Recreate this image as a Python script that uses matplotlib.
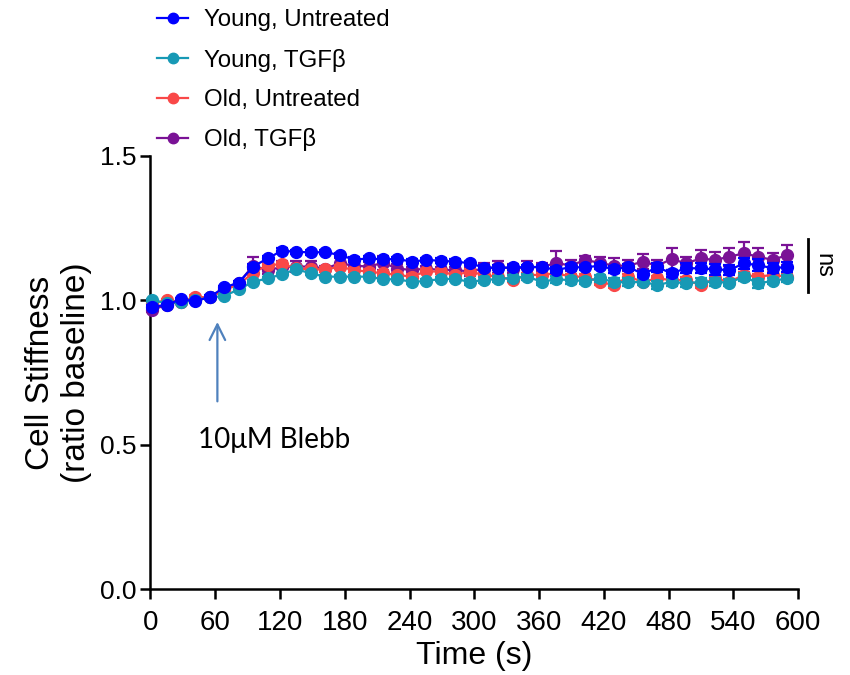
import matplotlib
matplotlib.use("Agg")
import matplotlib.pyplot as plt
from matplotlib.lines import Line2D

plt.rcParams['font.family'] = ['Liberation Sans', 'DejaVu Sans']

# ---- data ----
time_s = [1.5, 14.9, 28.2, 41.6, 55.0, 68.4, 81.7, 95.1, 108.5, 121.8,
          135.2, 148.6, 161.9, 175.3, 188.7, 202.1, 215.4, 228.8, 242.2, 255.5,
          268.9, 282.3, 295.6, 309.0, 322.4, 335.8, 349.1, 362.5, 375.9, 389.2,
          402.6, 416.0, 429.3, 442.7, 456.1, 469.5, 482.8, 496.2, 509.6, 522.9,
          536.3, 549.7, 563.0, 576.4, 589.8]

labels = ["Young, Untreated", "Young, TGF\u03b2", "Old, Untreated", "Old, TGF\u03b2"]

young_untreated = [0.978, 0.984, 1.004, 0.997, 1.012, 1.045, 1.061, 1.117, 1.145, 1.172,
                   1.168, 1.166, 1.167, 1.157, 1.141, 1.145, 1.142, 1.143, 1.134, 1.140,
                   1.137, 1.134, 1.129, 1.113, 1.113, 1.114, 1.115, 1.116, 1.105, 1.115,
                   1.114, 1.120, 1.107, 1.116, 1.091, 1.114, 1.094, 1.111, 1.111, 1.107,
                   1.105, 1.128, 1.122, 1.111, 1.116]
young_untreated_err = [0.005, 0.005, 0.005, 0.005, 0.005, 0.006, 0.006, 0.008, 0.008, 0.008,
                       0.008, 0.008, 0.008, 0.008, 0.008, 0.008, 0.008, 0.008, 0.008, 0.008,
                       0.008, 0.008, 0.008, 0.008, 0.008, 0.008, 0.008, 0.008, 0.010, 0.010,
                       0.010, 0.010, 0.012, 0.010, 0.010, 0.015, 0.012, 0.018, 0.018, 0.018,
                       0.018, 0.020, 0.020, 0.018, 0.018]

young_tgfb = [1.001, 0.990, 0.995, 1.000, 1.010, 1.015, 1.038, 1.064, 1.076, 1.090,
              1.108, 1.093, 1.082, 1.082, 1.082, 1.082, 1.073, 1.073, 1.064, 1.067,
              1.074, 1.074, 1.064, 1.070, 1.074, 1.078, 1.082, 1.064, 1.073, 1.070,
              1.067, 1.076, 1.064, 1.062, 1.064, 1.053, 1.064, 1.059, 1.064, 1.064,
              1.061, 1.082, 1.059, 1.067, 1.076]
young_tgfb_err = [0.005, 0.005, 0.005, 0.005, 0.005, 0.006, 0.006, 0.006, 0.006, 0.006,
                  0.006, 0.006, 0.006, 0.006, 0.006, 0.006, 0.006, 0.006, 0.008, 0.008,
                  0.008, 0.008, 0.010, 0.010, 0.010, 0.010, 0.010, 0.010, 0.012, 0.012,
                  0.012, 0.012, 0.014, 0.014, 0.012, 0.015, 0.014, 0.014, 0.012, 0.014,
                  0.012, 0.014, 0.015, 0.012, 0.012]

old_untreated = [0.990, 1.000, 0.995, 1.012, 1.010, 1.035, 1.055, 1.095, 1.122, 1.125,
                 1.111, 1.107, 1.107, 1.116, 1.105, 1.099, 1.094, 1.088, 1.082, 1.101,
                 1.099, 1.088, 1.099, 1.088, 1.082, 1.070, 1.088, 1.088, 1.094, 1.082,
                 1.082, 1.064, 1.053, 1.082, 1.064, 1.076, 1.070, 1.070, 1.053, 1.076,
                 1.064, 1.088, 1.082, 1.088, 1.082]
old_untreated_err = [0.005, 0.005, 0.005, 0.005, 0.005, 0.006, 0.006, 0.008, 0.008, 0.008,
                     0.008, 0.008, 0.008, 0.008, 0.008, 0.008, 0.008, 0.008, 0.008, 0.008,
                     0.008, 0.008, 0.008, 0.008, 0.008, 0.008, 0.008, 0.008, 0.010, 0.010,
                     0.010, 0.010, 0.010, 0.010, 0.010, 0.010, 0.010, 0.010, 0.010, 0.010,
                     0.010, 0.010, 0.010, 0.010, 0.010]

old_tgfb = [0.966, 0.985, 0.995, 1.000, 1.010, 1.040, 1.060, 1.120, 1.105, 1.115,
            1.117, 1.117, 1.110, 1.128, 1.120, 1.117, 1.130, 1.110, 1.105, 1.110,
            1.105, 1.105, 1.100, 1.110, 1.115, 1.110, 1.115, 1.115, 1.130, 1.120,
            1.140, 1.130, 1.120, 1.120, 1.134, 1.120, 1.143, 1.128, 1.145, 1.140,
            1.151, 1.163, 1.151, 1.140, 1.157]
old_tgfb_err = [0.005, 0.005, 0.005, 0.005, 0.005, 0.005, 0.005, 0.030, 0.015, 0.020,
                0.020, 0.020, 0.010, 0.020, 0.015, 0.015, 0.025, 0.015, 0.010, 0.010,
                0.010, 0.010, 0.015, 0.020, 0.020, 0.015, 0.020, 0.015, 0.040, 0.020,
                0.015, 0.020, 0.025, 0.020, 0.026, 0.020, 0.039, 0.023, 0.029, 0.029,
                0.031, 0.040, 0.031, 0.023, 0.035]

colors = ["#0000ff", "#1799b5", "#f94848", "#7a1296"]

# ---- figure ----
fig = plt.figure(figsize=(8.5, 6.75), dpi=100)
ax = fig.add_axes([0.177, 0.1274, 0.762, 0.6415])

series = [young_untreated, young_tgfb, old_untreated, old_tgfb]
errs = [young_untreated_err, young_tgfb_err, old_untreated_err, old_tgfb_err]
zorders = [8, 7, 6, 5]
handles = []
for vals, err, col, lab, z in zip(series, errs, colors, labels, zorders):
    ax.errorbar(time_s, vals, yerr=err, color=col, marker='o', markersize=8.5,
                linewidth=1.6, elinewidth=1.6, capsize=4, capthick=1.6,
                zorder=z, clip_on=False)
    handles.append(Line2D([], [], color=col, marker='o', markersize=7.5, linewidth=1.6))

ax.set_xlim(0, 600)
ax.set_ylim(0, 1.5)
ax.set_xticks(list(range(0, 601, 60)))
ax.set_yticks([0.0, 0.5, 1.0, 1.5])
ax.set_yticklabels(["0.0", "0.5", "1.0", "1.5"])
for s in ["top", "right"]:
    ax.spines[s].set_visible(False)
for s in ["left", "bottom"]:
    ax.spines[s].set_linewidth(1.8)
ax.tick_params(axis='both', which='major', length=7, width=1.8, direction='out')
ax.tick_params(axis='x', pad=8, labelsize=20)
ax.tick_params(axis='y', pad=3, labelsize=19)

ax.set_xlabel("Time (s)", fontsize=23, labelpad=4)
ax.set_ylabel("Cell Stiffness\n(ratio baseline)", fontsize=24, labelpad=6, linespacing=1.2)

# annotation arrow
ax.annotate("", xy=(62, 0.925), xytext=(62, 0.65),
            arrowprops=dict(arrowstyle="->", color="#4f81bd", lw=1.6,
                            mutation_scale=28, shrinkA=0, shrinkB=0))
ax.text(44, 0.488, "10\u03bcM Blebb", fontsize=20, family=['Lato', 'DejaVu Sans'],
        ha='left', va='baseline', color='black')

# ns bracket
ax.plot([609.5, 609.5], [1.03, 1.211], color='black', lw=2.0, clip_on=False)
ax.text(623, 1.12, "ns", rotation=270, fontsize=17, ha='center', va='center')

leg = fig.legend(handles=handles, labels=labels, loc='upper left',
                 bbox_to_anchor=(0.1847, 0.986), frameon=False, fontsize=17.3,
                 handlelength=1.3, handletextpad=0.65, labelspacing=0.72,
                 borderpad=0.0, borderaxespad=0.0)

fig.savefig("out.png", dpi=100)
